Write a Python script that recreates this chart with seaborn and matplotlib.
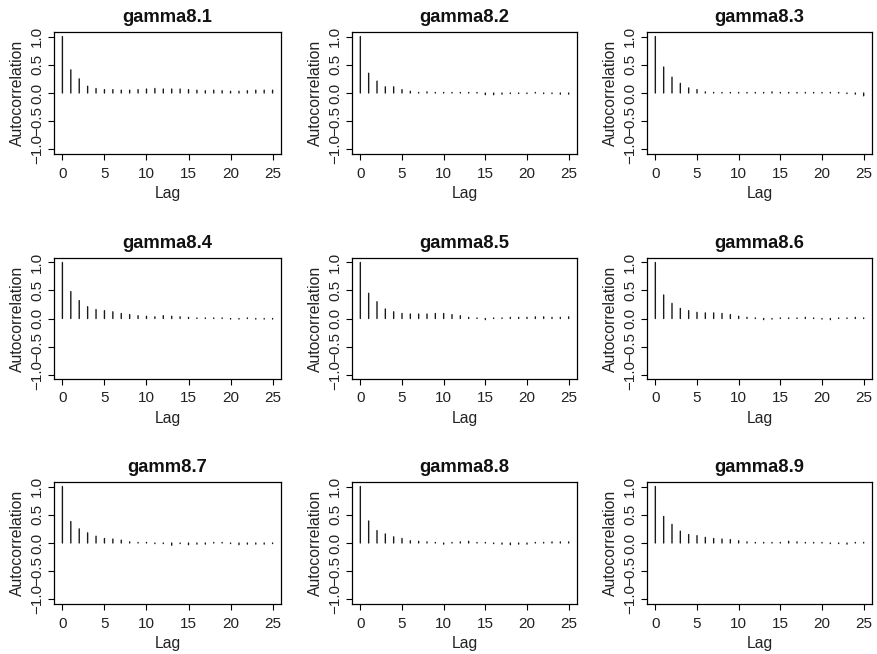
import numpy as np
import pandas as pd
import matplotlib
matplotlib.use("Agg")
import matplotlib.pyplot as plt
import seaborn as sns

titles = ["gamma8.1", "gamma8.2", "gamma8.3",
          "gamma8.4", "gamma8.5", "gamma8.6",
          "gamm8.7", "gamma8.8", "gamma8.9"]

lags = list(range(26))

acf_1 = [1.0, 0.41, 0.25, 0.12, 0.08, 0.06, 0.06, 0.05, 0.05, 0.06, 0.07, 0.08, 0.07,
         0.07, 0.07, 0.06, 0.05, 0.04, 0.05, 0.04, 0.03, 0.03, 0.04, 0.05, 0.05, 0.05]
acf_2 = [1.0, 0.35, 0.21, 0.11, 0.11, 0.06, 0.03, 0.01, 0.02, 0.01, 0.01, 0.01, 0.01,
         0.01, 0.01, -0.03, -0.03, -0.02, -0.01, -0.01, -0.01, 0.01, -0.01, -0.01, -0.02, -0.02]
acf_3 = [1.0, 0.46, 0.28, 0.17, 0.09, 0.06, 0.02, 0.01, 0.01, 0.01, 0.01, 0.01, 0.01,
         0.01, 0.02, 0.01, 0.01, 0.01, 0.01, 0.01, 0.01, 0.01, 0.01, -0.01, -0.02, -0.05]
acf_4 = [1.0, 0.48, 0.32, 0.21, 0.16, 0.14, 0.12, 0.09, 0.07, 0.05, 0.04, 0.03, 0.05,
         0.04, 0.03, 0.02, 0.01, 0.01, 0.01, 0.01, -0.01, -0.01, 0.01, -0.01, -0.01, -0.01]
acf_5 = [1.0, 0.45, 0.30, 0.17, 0.12, 0.09, 0.08, 0.08, 0.08, 0.09, 0.09, 0.07, 0.05,
         0.02, 0.01, -0.02, 0.01, 0.01, 0.02, 0.02, 0.02, 0.03, 0.03, 0.02, 0.02, 0.03]
acf_6 = [1.0, 0.42, 0.27, 0.18, 0.14, 0.11, 0.10, 0.10, 0.09, 0.07, 0.04, 0.02, 0.01,
         -0.02, -0.01, 0.01, 0.01, 0.01, 0.02, 0.01, -0.01, -0.02, 0.01, 0.01, 0.02, 0.01]
acf_7 = [1.0, 0.38, 0.25, 0.18, 0.12, 0.08, 0.07, 0.05, 0.02, 0.01, 0.01, -0.01, -0.01,
         -0.04, -0.01, -0.03, -0.02, -0.02, 0.01, 0.01, -0.01, -0.03, -0.02, -0.02, -0.02, -0.01]
acf_8 = [1.0, 0.39, 0.22, 0.16, 0.11, 0.08, 0.04, 0.03, 0.02, 0.01, -0.02, 0.01, 0.02,
         0.03, 0.01, 0.01, -0.01, -0.02, -0.03, -0.02, -0.02, 0.01, 0.01, 0.02, 0.02, 0.02]
acf_9 = [1.0, 0.47, 0.33, 0.21, 0.15, 0.13, 0.10, 0.08, 0.07, 0.06, 0.04, 0.02, 0.01,
         0.01, 0.01, 0.01, 0.03, 0.02, 0.01, 0.01, 0.01, -0.01, -0.01, -0.02, 0.01, 0.01]

series = [acf_1, acf_2, acf_3, acf_4, acf_5, acf_6, acf_7, acf_8, acf_9]

x_ticks = [0, 5, 10, 15, 20, 25]
y_ticks = [-1.0, -0.5, 0.0, 0.5, 1.0]
y_tick_labels = ["\u22121.0", "\u22120.5", "0.0", "0.5", "1.0"]

sns.set_theme(style="ticks")
plt.rcParams["font.family"] = ["Liberation Sans", "DejaVu Sans"]

W, H = 877, 654
fig = plt.figure(figsize=(W / 100, H / 100), dpi=100)

col_left = [54, 352, 647]
col_w = [227, 225, 225]
row_top = [32, 258, 482]
row_h = [122, 121, 122]

for i, (title, vals) in enumerate(zip(titles, series)):
    r, c = divmod(i, 3)
    l = col_left[c] / W
    b = 1 - (row_top[r] + row_h[r]) / H
    ax = fig.add_axes([l, b, col_w[c] / W, row_h[r] / H])
    df = pd.DataFrame({"Lag": lags, "ACF": vals})
    lc = ax.vlines(df["Lag"], 0, df["ACF"], color="#1a1a1a", linewidth=1.0,
                   capstyle="round")
    lc.set_snap(False)
    ax.set_xlim(-1, 26)
    ax.set_ylim(-1.08, 1.08)
    ax.set_xticks(x_ticks)
    ax.set_xticklabels([str(t) for t in x_ticks])
    ax.set_yticks(y_ticks)
    ax.set_yticklabels(y_tick_labels, rotation=90, va="center")
    for s in ax.spines.values():
        s.set_visible(True)
        s.set_color("black")
        s.set_linewidth(0.9)
    ax.tick_params(axis="both", direction="out", length=4, width=0.8,
                   colors="black", labelsize=11, labelcolor="#222222")
    ax.tick_params(axis="x", pad=5)
    ax.tick_params(axis="y", pad=3)
    ax.set_xlabel("Lag", fontsize=11.3, labelpad=4, color="#222222")
    ax.set_ylabel("Autocorrelation", fontsize=11.3, labelpad=4, color="#222222")
    ax.set_title(title, fontsize=13.2, fontweight="bold", pad=7, color="#111111")
    ax.grid(False)

fig.savefig("out.png", dpi=100, facecolor="white")
